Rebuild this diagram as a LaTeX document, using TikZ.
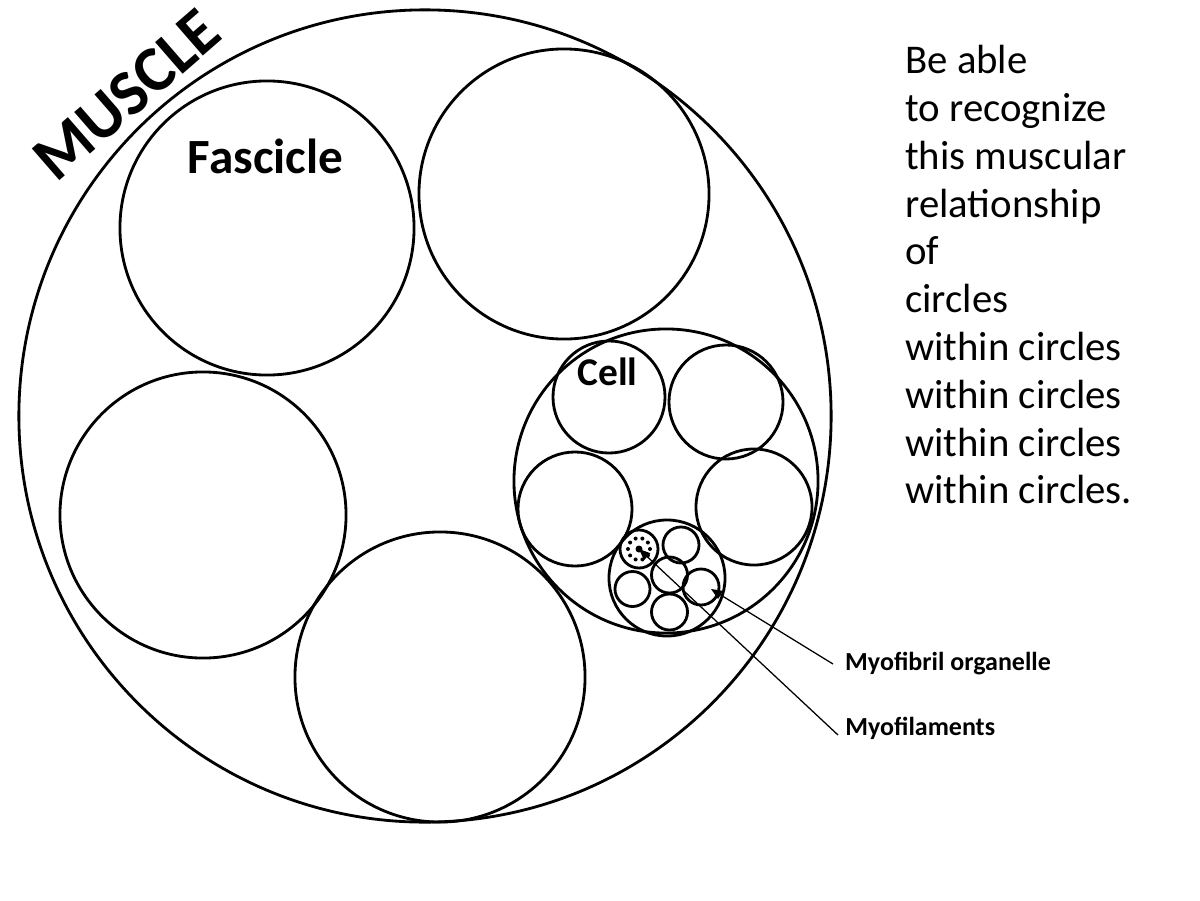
\documentclass[tikz,border=0pt]{standalone}
\usepackage{fontspec}
\setmainfont{Carlito}
\usetikzlibrary{arrows.meta,calc}

\begin{document}
\begin{tikzpicture}[x=0.025cm, y=-0.025cm, >={Triangle[length=8pt,width=6.5pt]}]
	\tikzset{ring/.style={draw, circle, line width=2pt, inner sep=0pt, minimum size=#1*0.05cm},
		lbl/.style={font=\bfseries\fontsize{18.5}{20}\selectfont, inner ysep=1pt},
		lead/.style={line width=0.9pt}}
	\useasboundingbox (0,0) rectangle (1200,900);
	% muscle and fascicles
	\node[ring=406] (mus) at (425,416) {};
	\node[ring=147] (fas1) at (267,228) {};
	\node[ring=145] (fas2) at (564,194) {};
	\node[ring=143] (fas3) at (203,515) {};
	\node[ring=145] (fas4) at (440,677) {};
	\node[ring=152] (fas5) at (666,481) {};
	\node[rotate=41, font=\bfseries\fontsize{46}{46}\selectfont] (muscle) at (127,95) {MUSCLE};
	\node[anchor=base, font=\bfseries\fontsize{35}{35}\selectfont] (fastxt) at (265.5,173) {Fascicle};
	% cells
	\node[ring=56] (cel1) at (609,397) {};
	\node[ring=57] (cel2) at (726,402) {};
	\node[ring=57] (cel3) at (575,509) {};
	\node[ring=58] (cel4) at (754,507) {};
	\node[ring=58] (cel5) at (667,578) {};
	\node[anchor=base, font=\bfseries\fontsize{28}{28}\selectfont] (celtxt) at (607.5,385) {Cell};
	% myofibrils
	\node[ring=19] (myo1) at (639,549) {};
	\node[ring=18] (myo2) at (681,545) {};
	\node[ring=18] (myo3) at (669.5,575) {};
	\node[ring=17.5] (myo4) at (632.5,589) {};
	\node[ring=18] (myo5) at (701,587) {};
	\node[ring=18] (myo6) at (669.5,612) {};
	\foreach \a in {0,36,...,324}
		\fill ($(myo1.center)+(\a:11)$) circle (2);
	\fill (myo1.center) circle (3.5);
	% labels
	\node[lbl, anchor=west, inner xsep=8.5pt] (orglbl) at (833,664) {Myofibril organelle};
	\node[lbl, anchor=base west, inner xsep=5pt] (fillbl) at (838,735) {Myofilaments};
	\draw[lead, ->] (orglbl.west) -- ($(myo5.center)+(10,2)$);
	\draw[lead, ->] (fillbl.base west) -- (myo1.center);
	% note
	\node[anchor=north west, align=left, inner sep=0pt, font=\fontsize{29}{34}\selectfont] (note) at (905,45)
		{Be able\\to recognize\\this muscular\\relationship\\of\\circles\\within circles\\within circles\\within circles\\within circles.};
\end{tikzpicture}
\end{document}
